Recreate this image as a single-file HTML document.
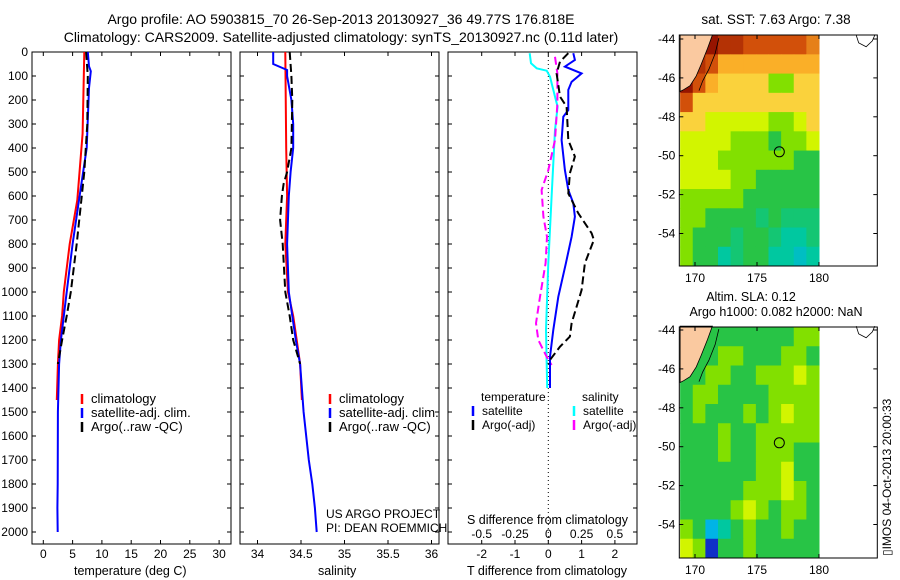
<!DOCTYPE html>
<html><head><meta charset="utf-8"><style>
body{margin:0;background:#fff;}
svg{display:block;font-family:"Liberation Sans",sans-serif;}
text{font-size:12px;fill:#000;}
</style></head><body>
<svg id="c" width="900" height="580" viewBox="0 0 900 580">
<text x="341" y="24" text-anchor="middle" style="font-size:14px">Argo profile: AO 5903815_70 26-Sep-2013 20130927_36 49.77S 176.818E</text>
<text x="341" y="42" text-anchor="middle" style="font-size:14px">Climatology: CARS2009. Satellite-adjusted climatology: synTS_20130927.nc (0.11d later)</text>
<text x="74" y="575" style="font-size:12.5px">temperature (deg C)</text>
<text x="318" y="575" style="font-size:12.5px">salinity</text>
<text x="467" y="575" style="font-size:12.5px">T difference from climatology</text>
<text x="467" y="524" style="font-size:12.5px">S difference from climatology</text>
<text x="326" y="518">US ARGO PROJECT</text>
<text x="326" y="532">PI: DEAN ROEMMICH</text>
<text x="776" y="24" text-anchor="middle" style="font-size:13.5px">sat. SST: 7.63 Argo: 7.38</text>
<text x="751" y="301" text-anchor="middle" style="font-size:12.5px">Altim. SLA: 0.12</text>
<text x="776" y="316" text-anchor="middle" style="font-size:12.5px">Argo h1000: 0.082 h2000: NaN</text>
<text transform="translate(891,556) rotate(-90)">▯IMOS 04-Oct-2013 20:00:33</text>
</svg>
<script>
// ----- data -----
const depthTicks=[0,100,200,300,400,500,600,700,800,900,1000,1100,1200,1300,1400,1500,1600,1700,1800,1900,2000];
const tempTicks=[0,5,10,15,20,25,30];
const salTicks=[34,34.5,35,35.5,36];
const tdiffTicks=[-2,-1,0,1,2];
const sdiffTicks=[-0.5,-0.25,0,0.25,0.5];
const climTempDepth=[0,340,617,800,1000,1100,1200,1300,1450];
const climTempVal=[7.0,6.7,5.8,4.5,3.5,3.2,2.7,2.5,2.3];
const satTempDepth=[0,60,80,150,400,600,800,1000,1200,1300,1500,1800,1900,2000];
const satTempVal=[7.6,7.8,8.1,7.8,7.4,6.2,5.0,4.0,3.0,2.7,2.5,2.45,2.4,2.45];
const argoTempDepth=[0,100,300,500,800,1000,1100,1200,1300];
const argoTempVal=[7.3,7.6,7.5,7.0,5.7,4.7,4.0,3.2,2.5];
const climSalDepth=[0,400,600,800,1000,1100,1200,1300,1450];
const climSalVal=[34.32,34.33,34.34,34.32,34.35,34.41,34.45,34.49,34.51];
const satSalDepth=[0,50,75,100,200,300,400,500,600,800,1000,1200,1300,1500,1700,1800,1900,2000];
const satSalVal=[34.18,34.18,34.34,34.34,34.39,34.41,34.41,34.38,34.36,34.34,34.36,34.44,34.49,34.53,34.59,34.63,34.66,34.68];
const argoSalDepth=[0,100,200,400,500,550,600,700,800,1000,1100,1200,1300];
const argoSalVal=[34.37,34.39,34.40,34.39,34.34,34.30,34.28,34.26,34.29,34.32,34.37,34.41,34.49];
const dTsatDepth=[5,33,61,89,124,158,242,270,367,492,575,630,686,770,880,1020,1158,1270,1400];
const dTsatVal=[0.75,0.8,0.5,1.0,0.7,0.6,0.6,0.45,0.4,0.5,0.6,0.75,0.8,0.7,0.53,0.3,0.15,0.05,0.05];
const dTargoDepth=[5,40,89,186,228,367,436,505,589,672,755,783,880,992,1130,1186,1228,1283,1300];
const dTargoVal=[0.6,0.35,0.25,0.35,0.55,0.6,0.8,0.65,0.6,0.9,1.3,1.37,1.1,1.0,0.7,0.65,0.35,0.05,0.0];
const dSsatDepth=[5,47,68,78,103,186,228,325,603,880,1158,1400];
const dSsatVal=[-0.14,-0.13,-0.087,-0.012,0.013,0.05,0.07,0.05,0.025,0,-0.017,-0.008];
const dSargoDepth=[20,89,214,367,492,575,686,770,880,1020,1130,1200,1270,1304];
const dSargoVal=[0.05,0.068,0.068,0.05,0,-0.05,-0.037,-0.01,-0.02,-0.062,-0.092,-0.075,-0.012,0.025];
const mapLonTicks=[170,175,180];
const mapLatTicks=[-44,-46,-48,-50,-52,-54];
const sstGrid=[
[10,10,10,9.5,9.5,9,9,9,9,9,8.5],
[10,9.5,9,8,8,8,8,8,8,8,8],
[10,9,8,7,7,7,7,5,5,7,7],
[9,7,7,7,7,7,7,7,7,7,7],
[7,7,6,6,6,6,6,5,5,6,7],
[6,6,6,6,5,5,5,4,5,5,6],
[6,6,6,5,5,5,5,5,5,4,4],
[6,6,6,6,5,5,4,4,4,4,4],
[5,5,5,5,5,4,4,4,4,4,4],
[5,5,4,4,4,4,3.5,4,3.5,3.5,3.5],
[5,4,4,4,3.5,4,4,3.5,3,3,3.5],
[5,4,4,3,3.5,4,4,3,3,2.5,3]];
const slaGrid=[
[4,4,4,4,4,4,4,4,4,5,5],
[4,4,4,5,5,4,4,4,5,5,4],
[4,4,5,5,4,4,5,5,5,6,5],
[4,5,5,4,4,4,4,5,5,5,5],
[4,5,4,4,4,5,4,5,6,5,5],
[4,4,4,5,4,4,5,5,5,5,5],
[4,4,4,5,4,4,5,5,5,4,4],
[4,4,4,4,4,4,5,5,6,4,4],
[4,4,4,4,4,5,5,5,6,5,4],
[4,4,4,4,5,6,5,4,5,5,4],
[5,4,2,3,4,5,4,4,5,4,4],
[6,5,1,4,4,5,4,4,4,4,4]];
const argoLon=176.8, argoLat=-49.8;

// ----- helpers -----
const svg=document.getElementById('c');
const NS='http://www.w3.org/2000/svg';
function mk(tag,attrs,parent){const e=document.createElementNS(NS,tag);for(const k in attrs)e.setAttribute(k,attrs[k]);(parent||svg).appendChild(e);return e;}
const TOP=52, BOT=544;
const yD=d=>TOP+d*0.24;
const xT=v=>43.3+v*5.86;
const xS=v=>257.5+(v-34)*87;
const xdT=v=>548.3+v*33.3;
const xdS=v=>548.3+v*4*33.3;

function frame(x0,x1,name){
  const r=mk('rect',{x:x0,y:TOP,width:x1-x0,height:BOT-TOP,fill:'none',stroke:'#000','stroke-width':1});
  
  
  depthTicks.forEach(d=>{const y=yD(d);
    mk('line',{x1:x0,x2:x0+4,y1:y,y2:y,stroke:'#000'});
    mk('line',{x1:x1-4,x2:x1,y1:y,y2:y,stroke:'#000'});});
}
function xticks(vals,fx,labelY,labels,name){
  vals.forEach((v,i)=>{const x=fx(v);
    mk('line',{x1:x,x2:x,y1:BOT,y2:BOT-4,stroke:'#000'});
    mk('line',{x1:x,x2:x,y1:TOP,y2:TOP+4,stroke:'#000'});
    if(labels){const t=mk('text',{x:x,y:labelY,'text-anchor':'middle'});t.textContent=labels[i];
      
      }
  });
}
function series(vals,depths,fx,color,dash,name,w){
  const pts=vals.map((v,i)=>fx(v).toFixed(1)+','+yD(depths[i]).toFixed(1)).join(' ');
  const p=mk('polyline',{points:pts,fill:'none',stroke:color,'stroke-width':w||2,'stroke-dasharray':dash||'none'});
  
  
}
function legendEntry(x,y,color,label,fs){
  mk('line',{x1:x,x2:x,y1:y-9,y2:y+1,stroke:color,'stroke-width':2.5});
  const t=mk('text',{x:x+9,y:y,style:'font-size:'+(fs||12)+'px'});t.textContent=label;
  
  
}

// panel 1
frame(32,231,'temperature-panel');
depthTicks.forEach(d=>{const t=mk('text',{x:28,y:yD(d)+4,'text-anchor':'end'});t.textContent=d;
  
  });
xticks(tempTicks,xT,558,tempTicks,'temp-tick-label');
series(climTempVal,climTempDepth,xT,'#f00',null,'temp-climatology-line');
series(satTempVal,satTempDepth,xT,'#00f',null,'temp-satellite-line');
series(argoTempVal,argoTempDepth,xT,'#000','8,4','temp-argo-line');
legendEntry(82,403,'#f00','climatology',13);
legendEntry(82,417,'#00f','satellite-adj. clim.',13);
legendEntry(82,431,'#000','Argo(..raw -QC)',13);

// panel 2
frame(240,439,'salinity-panel');
xticks(salTicks,xS,558,salTicks,'sal-tick-label');
series(climSalVal,climSalDepth,xS,'#f00',null,'sal-climatology-line');
series(satSalVal,satSalDepth,xS,'#00f',null,'sal-satellite-line');
series(argoSalVal,argoSalDepth,xS,'#000','8,4','sal-argo-line');
legendEntry(330,403,'#f00','climatology',13);
legendEntry(330,417,'#00f','satellite-adj. clim.',13);
legendEntry(330,431,'#000','Argo(..raw -QC)',13);

// panel 3
frame(448,637,'difference-panel');
xticks(tdiffTicks,xdT,558,tdiffTicks,'tdiff-tick-label');
sdiffTicks.forEach(v=>{const t=mk('text',{x:xdS(v),y:538,'text-anchor':'middle'});t.textContent=v;
  
  });
mk('line',{x1:xdT(0),x2:xdT(0),y1:TOP,y2:BOT,stroke:'#000','stroke-dasharray':'1,3'});
series(dSsatVal,dSsatDepth,xdS,'#00ffff',null,'sdiff-satellite-line');
series(dSargoVal,dSargoDepth,xdS,'#ff00ff','8,4','sdiff-argo-line');
series(dTsatVal,dTsatDepth,xdT,'#00f',null,'tdiff-satellite-line');
series(dTargoVal,dTargoDepth,xdT,'#000','8,4','tdiff-argo-line');
{const t=mk('text',{x:481,y:401});t.textContent='temperature';
 
 
 const s=mk('text',{x:582,y:401});s.textContent='salinity';
 
 }
legendEntry(473,415,'#00f','satellite');
legendEntry(473,429,'#000','Argo(-adj)');
legendEntry(574,415,'#00ffff','satellite');
legendEntry(574,429,'#ff00ff','Argo(-adj)');

// maps
const stops=[[0,[0,0,150]],[1,[16,48,200]],[2,[0,180,230]],[3,[0,200,160]],[4,[40,196,70]],[5,[130,224,0]],[6,[210,245,0]],[7,[250,210,60]],[8,[250,175,40]],[9,[210,80,10]],[10,[150,20,0]]];
function cmap(v){for(let i=0;i<stops.length-1;i++){const a=stops[i],b=stops[i+1];if(v<=b[0]){const t=(v-a[0])/(b[0]-a[0]);const c=a[1].map((q,k)=>Math.round(q+(b[1][k]-q)*t));return 'rgb('+c+')';}}return 'rgb(150,20,0)';}
function drawMap(grid,fy0,fy1,latRef,name){
  const X0=679.3,X1=877.3;
  const xL=lon=>695+(lon-170)*12.4;
  const yL=lat=>latRef+(-44-lat)*19.45;
  const g=mk('g',{});
  
  
  const nc=grid[0].length,nr=grid.length;
  const lonA=168.8,lonB=180, latA=-43.8;
  const cw=(xL(lonB)-xL(lonA))/nc;
  const top=Math.max(fy0,yL(latA)), ch=(fy1-top)/nr;
  grid.forEach((row,r)=>row.forEach((v,c)=>{
    const cell=mk('rect',{x:xL(lonA)+c*cw,y:top+r*ch,width:cw+0.5,height:ch+0.5,fill:cmap(v)},g);
    
    
  }));
  const land=mk('polygon',{points:[[168.8,-43.8],[171.4,-43.8],[171.0,-44.5],[170.5,-45.3],[170.1,-45.9],[169.6,-46.4],[169.1,-46.6],[168.8,-46.7]].map(p=>xL(p[0])+','+yL(p[1])).join(' '),fill:'#fac9a0',stroke:'#000','stroke-width':0.8},g);
  
  
  mk('polyline',{points:[[171.6,-43.8],[171.3,-44.6],[170.8,-45.4],[170.3,-46.0],[170.0,-46.5]].map(p=>(xL(p[0])+4)+','+(yL(p[1])+3)).join(' '),fill:'none',stroke:'#000','stroke-width':0.8},g);
  mk('polyline',{points:[[183,-43.8],[183.2,-44.2],[183.8,-44.4],[184.3,-44.1],[184.5,-43.8]].map(p=>xL(p[0])+','+yL(p[1])).join(' '),fill:'none',stroke:'#000','stroke-width':0.8},g);
  const m=mk('circle',{cx:xL(argoLon),cy:yL(argoLat),r:5,fill:'none',stroke:'#000'},g);
  
  
  mk('rect',{x:X0,y:fy0,width:X1-X0,height:fy1-fy0,fill:'none',stroke:'#000'},g);
  mapLatTicks.forEach(lat=>{const y=yL(lat);
    mk('line',{x1:X0,x2:X0+4,y1:y,y2:y,stroke:'#000'},g);
    mk('line',{x1:X1-4,x2:X1,y1:y,y2:y,stroke:'#000'},g);
    const t=mk('text',{x:X0-4,y:y+4,'text-anchor':'end'},g);t.textContent=lat;
    
    });
  mapLonTicks.forEach(lon=>{const x=xL(lon);
    mk('line',{x1:x,x2:x,y1:fy1,y2:fy1-4,stroke:'#000'},g);
    mk('line',{x1:x,x2:x,y1:fy0,y2:fy0+4,stroke:'#000'},g);
    const t=mk('text',{x:x,y:fy1+16,'text-anchor':'middle'},g);t.textContent=lon;
    
    });
}
drawMap(sstGrid,35,266,39,'sst-map');
drawMap(slaGrid,327,558,330,'sla-map');
</script>
</body></html>
